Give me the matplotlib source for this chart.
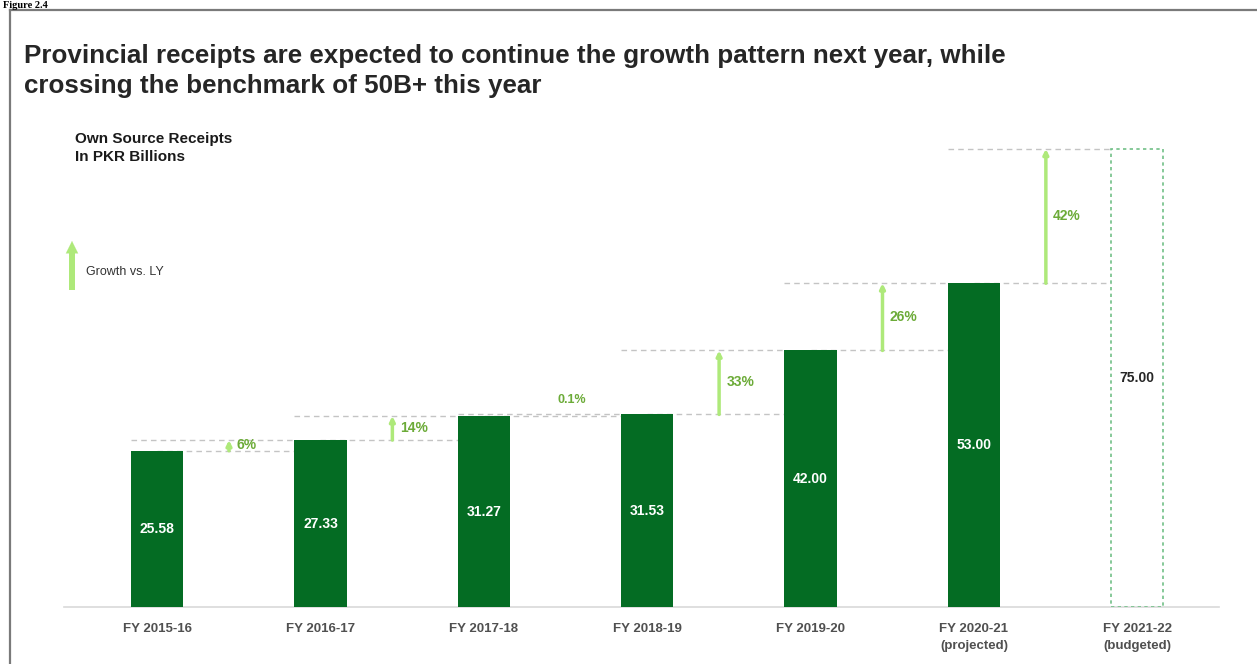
import matplotlib.pyplot as plt
from matplotlib.lines import Line2D
from matplotlib.patches import Rectangle

plt.rcParams['font.family'] = ['Liberation Sans', 'DejaVu Sans']

# Own source receipts, PKR billions
years = ["FY 2015-16", "FY 2016-17", "FY 2017-18", "FY 2018-19",
         "FY 2019-20", "FY 2020-21\n(projected)", "FY 2021-22\n(budgeted)"]
receipts = [25.58, 27.33, 31.27, 31.53, 42.00, 53.00, 75.00]
growth = ["6%", "14%", "0.1%", "33%", "26%", "42%"]

bar_green = '#046c23'
budget_green = '#72c088'
arrow_green = '#aee97a'
label_green = '#6cab38'
ref_gray = '#c4c4c4'
width = 0.32

fig = plt.figure(figsize=(12.57, 6.64), dpi=100)
ax = fig.add_axes([0.0509, 0.0858, 0.9189, 0.7636])

x = list(range(len(years)))

# actual / projected bars
ax.bar(x[:-1], receipts[:-1], width, color=bar_green, zorder=3)
# budgeted year drawn as a dotted outline
ax.bar(x[-1], receipts[-1], width, facecolor='none', edgecolor=budget_green,
       linestyle=(0, (2, 2)), linewidth=1.2, zorder=3)

for i, v in enumerate(receipts):
    col = 'white' if i < len(receipts) - 1 else '#262626'
    ax.text(i, v / 2, f"{v:.2f}", color=col, ha='center', va='center',
            fontsize=10, fontweight='bold', zorder=4)

# dashed reference lines and growth arrows between consecutive years
for i, g in enumerate(growth):
    lo, hi = receipts[i], receipts[i + 1]
    ax.plot([i, i + 1 - width / 2], [lo, lo], color=ref_gray, lw=1,
            ls=(0, (4, 3)), zorder=2)
    ax.plot([i - width / 2, i + 1 - width / 2], [hi, hi], color=ref_gray, lw=1,
            ls=(0, (4, 3)), zorder=2)
    if hi - lo < 1:
        ax.text(i + 0.54, hi + 1.3, g, color=label_green, fontsize=9,
                fontweight='bold', ha='center', va='bottom')
        continue
    ax_x = i + 0.44
    ax.annotate('', xy=(ax_x, hi), xytext=(ax_x, lo),
                arrowprops=dict(arrowstyle='-|>', color=arrow_green, lw=2.5,
                                mutation_scale=7, shrinkA=0, shrinkB=0),
                zorder=4)
    ax.text(ax_x + 0.045, (lo + hi) / 2, g, color=label_green, fontsize=10,
            fontweight='bold', ha='left', va='center')

ax.set_xlim(-0.57, 6.5)
ax.set_ylim(0, 83)
ax.set_xticks(x)
ax.set_xticklabels(years, fontsize=9.5, fontweight='bold', color='#505050',
                   linespacing=1.55)
ax.set_yticks([])
ax.tick_params(axis='x', length=0, pad=11.5)
for side in ['top', 'right', 'left']:
    ax.spines[side].set_visible(False)
ax.spines['bottom'].set_color('#d9d9d9')
ax.spines['bottom'].set_linewidth(1.2)

# titles
fig.text(24 / 1257, 1 - 71 / 664,
         "Provincial receipts are expected to continue the growth pattern next year, while\n"
         "crossing the benchmark of 50B+ this year",
         fontsize=18.7, fontweight='bold', color='#262626', va='center',
         linespacing=1.3)
fig.text(75 / 1257, 1 - 148 / 664, "Own Source Receipts\nIn PKR Billions",
         fontsize=11, fontweight='bold', color='#1a1a1a', va='center',
         linespacing=1.4)
fig.text(0.002, 1 - 7.5 / 664, "Figure 2.4", fontsize=7.5, fontweight='bold',
         family='Liberation Serif', va='baseline')

# legend key: growth arrow
fig.add_artist(Rectangle((69 / 1257, 1 - 290 / 664), 6 / 1257, 40 / 664,
                         transform=fig.transFigure, color=arrow_green, lw=0))
ax.annotate('', xy=(72, 664 - 241), xytext=(72, 664 - 255),
            xycoords='figure pixels', textcoords='figure pixels',
            arrowprops=dict(arrowstyle='-|>', color=arrow_green, lw=0.1,
                            mutation_scale=22, shrinkA=0, shrinkB=0))
fig.text(86 / 1257, 1 - 272 / 664, "Growth vs. LY", fontsize=9,
         color='#333333', va='center')

# frame around the exhibit
fig.add_artist(Line2D([9.5 / 1257, 1], [1 - 9.5 / 664, 1 - 9.5 / 664],
                      transform=fig.transFigure, color='#7a7a7a', lw=1.6))
fig.add_artist(Line2D([9.5 / 1257, 9.5 / 1257], [0, 1 - 9.5 / 664],
                      transform=fig.transFigure, color='#7a7a7a', lw=1.6))

plt.savefig('out.png')
